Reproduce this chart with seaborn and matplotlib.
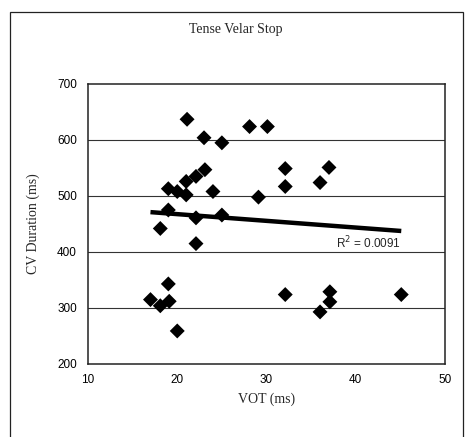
import matplotlib
matplotlib.use("Agg")
import matplotlib.pyplot as plt
import seaborn as sns
import pandas as pd
from matplotlib.patches import Rectangle

# Data
vot_ms = [21.1, 23.0, 25.0, 28.1, 30.1, 32.1, 37.0, 32.1, 36.0, 29.1,
          24.0, 19.0, 20.0, 21.0, 21.0, 22.1, 23.1, 19.0, 22.1, 25.0,
          18.1, 22.1, 17.0, 18.1, 19.1, 19.0, 20.0, 32.1, 37.1, 37.1,
          36.0, 45.1]
cv_duration_ms = [637, 604, 595, 624, 624, 549, 551, 517, 524, 498,
                  508, 513, 508, 502, 526, 535, 547, 475, 461, 466,
                  442, 415, 315, 304, 312, 343, 259, 324, 329, 311,
                  293, 324]
x_ticks = [10, 20, 30, 40, 50]
y_ticks = [200, 300, 400, 500, 600, 700]
title_text = "Tense Velar Stop"
x_label = "VOT (ms)"
y_label = "CV Duration (ms)"
r2_text = "R$^2$ = 0.0091"

df = pd.DataFrame({"VOT": vot_ms, "CV": cv_duration_ms})

sns.set_style("white")
plt.rcParams["font.family"] = ["Liberation Sans", "DejaVu Sans"]

fig = plt.figure(figsize=(4.69, 4.37), dpi=100)
ax = fig.add_axes([88 / 469, 1 - 364 / 437, (445 - 88) / 469, (364 - 84) / 437])

# outer frame
fig.patches.append(Rectangle((10 / 469, -0.05), (463 - 10) / 469, 1.05 - 12 / 437,
                             transform=fig.transFigure, fill=False,
                             edgecolor="#222222", linewidth=0.9))

sns.regplot(data=df, x="VOT", y="CV", scatter=False, ci=None, truncate=True,
            color="black", line_kws={"linewidth": 3.2, "solid_capstyle": "butt"}, ax=ax)
sns.scatterplot(data=df, x="VOT", y="CV", marker="D", s=58, color="black",
                edgecolor="none", linewidth=0, ax=ax, zorder=3)

ax.set_xlim(10, 50)
ax.set_ylim(200, 700)
ax.set_xticks(x_ticks)
ax.set_yticks(y_ticks)
ax.set_xticklabels([str(v) for v in x_ticks], fontsize=8.5)
ax.set_yticklabels([str(v) for v in y_ticks], fontsize=8.5)
ax.tick_params(axis="both", direction="in", length=3, width=0.8, colors="black")
ax.tick_params(axis="y", pad=8)
ax.tick_params(axis="x", pad=7)

for y in y_ticks[1:-1]:
    ax.axhline(y, color="#333333", linewidth=0.8, zorder=1)

for sp in ax.spines.values():
    sp.set_visible(True)
    sp.set_color("#222222")
    sp.set_linewidth(1.1)

ax.set_xlabel(x_label, fontsize=10, family=["Liberation Serif", "DejaVu Serif"], labelpad=5)
ax.set_ylabel(y_label, fontsize=10, family=["Liberation Serif", "DejaVu Serif"], labelpad=12)
fig.text(236 / 469, 1 - 30 / 437, title_text, ha="center", va="center",
         fontsize=10, family=["Liberation Serif", "DejaVu Serif"])

ax.text(41.4, 416, r2_text, ha="center", va="center", fontsize=8.5)

fig.savefig("out.png", dpi=100)
